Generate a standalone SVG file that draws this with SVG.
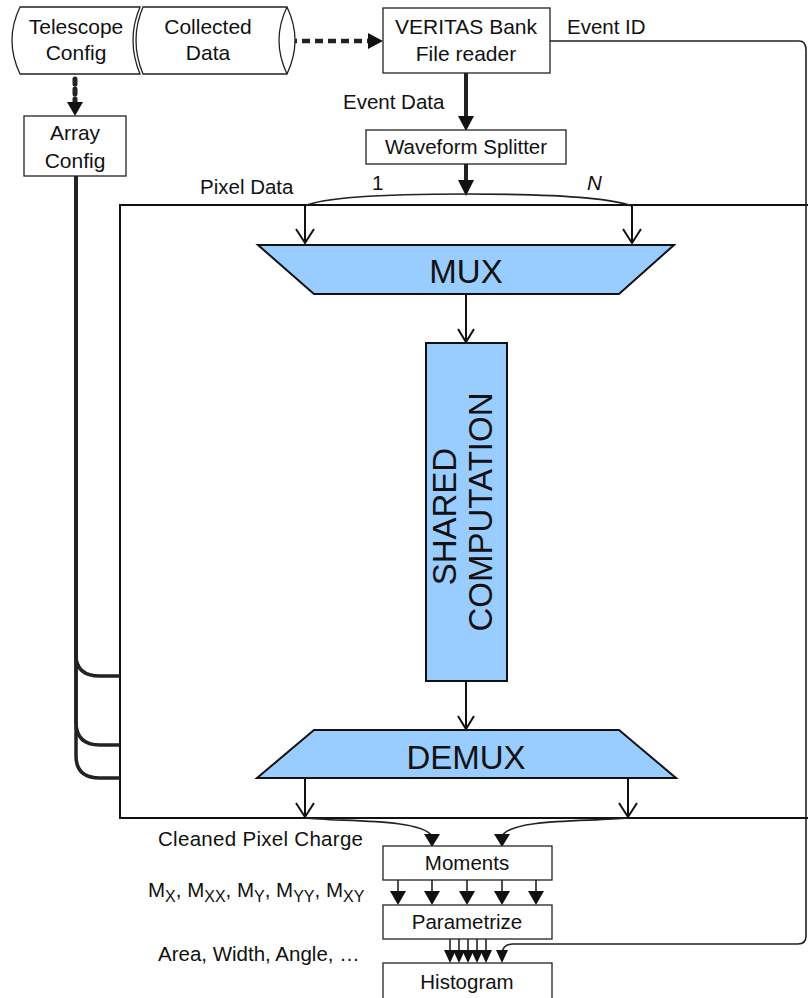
<svg xmlns="http://www.w3.org/2000/svg" width="808" height="998" viewBox="0 0 808 998">
  <style>
    text { font-family: "Liberation Sans", Arial, sans-serif; fill: #111; }
    .t19 { font-size: 21px; }
    .t18 { font-size: 20.5px; }
    .big { font-size: 33px; }
    .box { fill: #fff; stroke: #222; stroke-width: 1.3; }
    .blue { fill: #99CCFF; stroke: #111; stroke-width: 2; }
    .thin { fill: none; stroke: #222; stroke-width: 1.6; }
    .med { fill: none; stroke: #111; stroke-width: 2; }
    .thick { fill: none; stroke: #222; stroke-width: 4; }
    .head { fill: #111; }
    .open { fill: none; stroke: #111; stroke-width: 2; }
  </style>
  <rect width="808" height="998" fill="#fff"/>

  <!-- main processing frame -->
  <g id="frame">
    <rect x="120" y="205" width="720" height="613" fill="none" stroke="#111" stroke-width="2"/>
  </g>

  <g id="connectors">
    <!-- Telescope Config -> Array Config (dotted) -->
    <line x1="75" y1="79" x2="75" y2="104" stroke="#222" stroke-width="5" stroke-dasharray="5,5" stroke-linecap="round"/>
    <polygon class="head" points="67,102 83,102 75,116"/>
    <!-- Collected Data -> file reader (dotted) -->
    <line x1="289" y1="41" x2="368" y2="41" stroke="#222" stroke-width="4.5" stroke-dasharray="8,5"/>
    <polygon class="head" points="368,33 368,49 383,41"/>
    <!-- file reader -> waveform splitter -->
    <line class="thick" x1="466" y1="73" x2="466" y2="117"/>
    <polygon class="head" points="458,116 474,116 466,131"/>
    <!-- waveform splitter -> pixel fan-out -->
    <line class="thick" x1="466" y1="164" x2="466" y2="182"/>
    <polygon class="head" points="458,180 474,180 466,196"/>
    <path class="thin" d="M305,206 Q330,194 466,194 Q600,194 632,206"/>
    <line class="med" x1="305" y1="205" x2="305" y2="243"/>
    <polyline class="open" points="296,229 305,243 314,229"/>
    <line class="med" x1="632" y1="205" x2="632" y2="243"/>
    <polyline class="open" points="623,229 632,243 641,229"/>
    <!-- MUX -> shared computation -->
    <line class="med" x1="466" y1="294" x2="466" y2="342"/>
    <polyline class="open" points="458,329 466,342 474,329"/>
    <!-- shared computation -> DEMUX -->
    <line class="med" x1="466" y1="681" x2="466" y2="729"/>
    <polyline class="open" points="458,716 466,729 474,716"/>
    <!-- DEMUX outputs -->
    <line class="med" x1="305" y1="778" x2="305" y2="817"/>
    <polyline class="open" points="296,803 305,817 314,803"/>
    <line class="med" x1="628" y1="778" x2="628" y2="817"/>
    <polyline class="open" points="619,803 628,817 637,803"/>
    <!-- cleaned pixel charge -> Moments -->
    <path class="thin" d="M305,818 C340,822 420,818 432,836"/>
    <polygon class="head" points="424,834 440,834 432,847"/>
    <path class="thin" d="M628,818 C590,822 512,818 502,836"/>
    <polygon class="head" points="494,834 510,834 502,847"/>
    <!-- Moments -> Parametrize -->
    <g>
      <line class="thin" x1="398" y1="880" x2="398" y2="893"/>
      <polygon class="head" points="390,891 406,891 398,905"/>
      <line class="thin" x1="432" y1="880" x2="432" y2="893"/>
      <polygon class="head" points="424,891 440,891 432,905"/>
      <line class="thin" x1="467" y1="880" x2="467" y2="893"/>
      <polygon class="head" points="459,891 475,891 467,905"/>
      <line class="thin" x1="502" y1="880" x2="502" y2="893"/>
      <polygon class="head" points="494,891 510,891 502,905"/>
      <line class="thin" x1="536" y1="880" x2="536" y2="893"/>
      <polygon class="head" points="528,891 544,891 536,905"/>
    </g>
    <!-- Parametrize -> Histogram -->
    <g>
      <line class="thin" x1="450" y1="939" x2="450" y2="953"/>
      <polygon class="head" points="444,950 456,950 450,963"/>
      <line class="thin" x1="459" y1="939" x2="459" y2="953"/>
      <polygon class="head" points="453,950 465,950 459,963"/>
      <line class="thin" x1="468" y1="939" x2="468" y2="953"/>
      <polygon class="head" points="462,950 474,950 468,963"/>
      <line class="thin" x1="477" y1="939" x2="477" y2="953"/>
      <polygon class="head" points="471,950 483,950 477,963"/>
      <line class="thin" x1="486" y1="939" x2="486" y2="953"/>
      <polygon class="head" points="480,950 492,950 486,963"/>
    </g>
    <!-- Event ID route -->
    <path class="thin" d="M550,41 H799 Q806,41 806,50 V936 Q806,944 798,944 H513 Q503,944 502,953"/>
    <polygon class="head" points="496,950 508,950 502,963"/>
    <!-- Array Config feeds -->
    <g fill="none" stroke="#222" stroke-width="3.5">
      <path d="M76,176 V655 Q76,676 100,676 H120"/>
      <path d="M76,176 V722 Q76,745 100,745 H120"/>
      <path d="M76,176 V756 Q76,778 100,778 H120"/>
    </g>
  </g>

  <g id="telescope-config">
    <path class="box" d="M20,7 H140 Q126,40 140,74 H20 Q4,40 20,7 Z"/>
    <text class="t19" x="76" y="34" text-anchor="middle">Telescope</text>
    <text class="t19" x="76" y="60" text-anchor="middle">Config</text>
  </g>

  <g id="collected-data">
    <path class="box" d="M143,7 H287 Q303,40 287,74 H143 Q129,40 143,7 Z"/>
    <path class="box" fill="none" d="M287,7 Q271,40 287,74"/>
    <text class="t19" x="208" y="34" text-anchor="middle">Collected</text>
    <text class="t19" x="208" y="60" text-anchor="middle">Data</text>
  </g>

  <g id="array-config">
    <rect class="box" x="24" y="116" width="102" height="60"/>
    <text class="t19" x="75" y="140" text-anchor="middle">Array</text>
    <text class="t19" x="75" y="168" text-anchor="middle">Config</text>
  </g>

  <g id="file-reader">
    <rect class="box" x="383" y="8" width="167" height="65"/>
    <text class="t19" x="466" y="34" text-anchor="middle">VERITAS Bank</text>
    <text class="t19" x="466" y="61" text-anchor="middle">File reader</text>
  </g>

  <g id="waveform-splitter">
    <rect class="box" x="366" y="130" width="200" height="34"/>
    <text class="t18" x="466" y="154" text-anchor="middle">Waveform Splitter</text>
  </g>

  <g id="mux">
    <polygon class="blue" points="258,245 674,245 619,294 314,294"/>
    <text class="big" x="466" y="283" text-anchor="middle">MUX</text>
  </g>

  <g id="shared-computation">
    <rect class="blue" x="426" y="343" width="81" height="338"/>
    <text class="big" transform="translate(466,512) rotate(-90)" text-anchor="middle">
      <tspan x="0" y="-10">SHARED</tspan>
      <tspan x="0" y="26">COMPUTATION</tspan>
    </text>
  </g>

  <g id="demux">
    <polygon class="blue" points="314,730 619,730 676,778 257,778"/>
    <text class="big" x="466" y="769" text-anchor="middle">DEMUX</text>
  </g>

  <g id="moments">
    <rect class="box" x="383" y="846" width="169" height="34"/>
    <text class="t18" x="467" y="870" text-anchor="middle">Moments</text>
  </g>

  <g id="parametrize">
    <rect class="box" x="383" y="905" width="169" height="34"/>
    <text class="t18" x="467" y="929" text-anchor="middle">Parametrize</text>
  </g>

  <g id="histogram">
    <rect class="box" x="383" y="963" width="169" height="45"/>
    <text class="t18" x="467" y="989" text-anchor="middle">Histogram</text>
  </g>

  <!-- connector labels -->
  <g id="labels">
    <text class="t18" x="567" y="34">Event ID</text>
    <text class="t18" x="343" y="109">Event Data</text>
    <text class="t18" x="200" y="194">Pixel Data</text>
    <text class="t18" x="372" y="190">1</text>
    <text class="t18" x="587" y="190" font-style="italic">N</text>
    <text class="t18" x="158" y="846" textLength="205">Cleaned Pixel Charge</text>
    <text class="t18" x="148" y="897">M<tspan font-size="16" dy="5">X</tspan><tspan dy="-5">, M</tspan><tspan font-size="16" dy="5">XX</tspan><tspan dy="-5">, M</tspan><tspan font-size="16" dy="5">Y</tspan><tspan dy="-5">, M</tspan><tspan font-size="16" dy="5">YY</tspan><tspan dy="-5">, M</tspan><tspan font-size="16" dy="5">XY</tspan></text>
    <text class="t18" x="158" y="961">Area, Width, Angle, …</text>
  </g>
</svg>
